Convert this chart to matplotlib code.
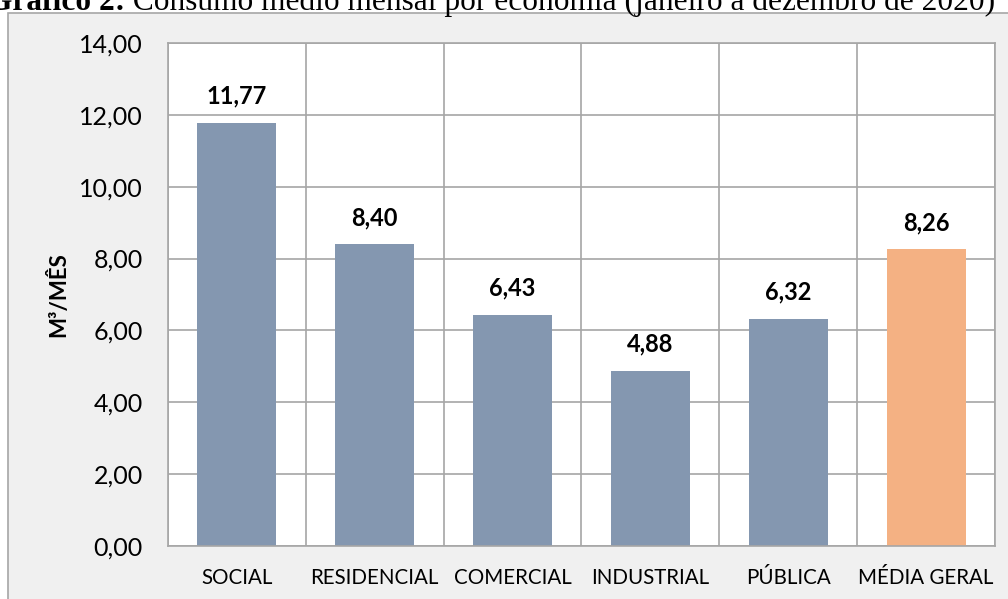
import numpy as np
import matplotlib.pyplot as plt
from matplotlib.patches import Rectangle

categorias = ["SOCIAL", "RESIDENCIAL", "COMERCIAL", "INDUSTRIAL", "PÚBLICA", "MÉDIA GERAL"]
consumo = [11.77, 8.40, 6.43, 4.88, 6.32, 8.26]
cores = ["#8497b0"] * 5 + ["#f4b183"]

plt.rcParams['font.family'] = ['Lato', 'DejaVu Sans']

fig = plt.figure(figsize=(10.08, 5.99), dpi=100)
fig.patch.set_facecolor('white')

# fundo cinza da área do gráfico (cortado à direita e embaixo)
fig.patches.append(Rectangle((8 / 1008, -0.1), 1.2, 1 - 13 / 599 + 0.1,
                             transform=fig.transFigure, facecolor='#f0f0f0',
                             edgecolor='#a6a6a6', linewidth=1.2, zorder=-5))

# título (cortado no topo, como no original)
t1 = fig.text(-12 / 1008, 1 - 10 / 599, "Gráfico 2:", ha='left', va='baseline',
              fontsize=22.6, fontweight='bold', family='Liberation Serif')
fig.canvas.draw()
x1 = t1.get_window_extent().x1
fig.text(x1 / 1008, 1 - 10 / 599, " Consumo médio mensal por economia (janeiro a dezembro de 2020)",
         ha='left', va='baseline', fontsize=22.6, family='Liberation Serif')

ax = fig.add_axes([168 / 1008, 1 - 546 / 599, (995 - 168) / 1008, (546 - 43) / 599])
ax.set_facecolor('white')
x = np.arange(len(categorias))
ax.bar(x, consumo, width=0.573, color=cores, zorder=2)
for xi, v in zip(x, consumo):
    ax.annotate(f"{v:.2f}".replace('.', ','), (xi, v), xytext=(0, 11), textcoords='offset points',
                ha='center', va='bottom', fontsize=17, fontweight='bold', color='black')

ax.set_xlim(-0.5, len(categorias) - 0.5)
ax.set_ylim(0, 14)
ax.set_yticks(np.arange(0, 15, 2))
ax.set_yticklabels([f"{t:.2f}".replace('.', ',') for t in np.arange(0, 15, 2)], fontsize=18)
ax.set_xticks(x)
ax.set_xticklabels(categorias, fontsize=14.8)
ax.tick_params(length=0)
ax.tick_params(axis='y', pad=18)
ax.tick_params(axis='x', pad=16)
ax.set_xticks(np.arange(-0.5, len(categorias)), minor=True)
ax.tick_params(which='minor', length=0)
ax.grid(axis='y', which='major', color='#a6a6a6', linewidth=1.2, zorder=0)
ax.grid(axis='x', which='minor', color='#a6a6a6', linewidth=1.2, zorder=0)
ax.grid(axis='x', which='major', visible=False)
for s in ax.spines.values():
    s.set_color('#a6a6a6')
    s.set_linewidth(1.2)
ax.set_ylabel("M³/MÊS", fontsize=16, fontweight='bold', labelpad=7.5)

fig.savefig('out.png', dpi=100, facecolor=fig.get_facecolor())
